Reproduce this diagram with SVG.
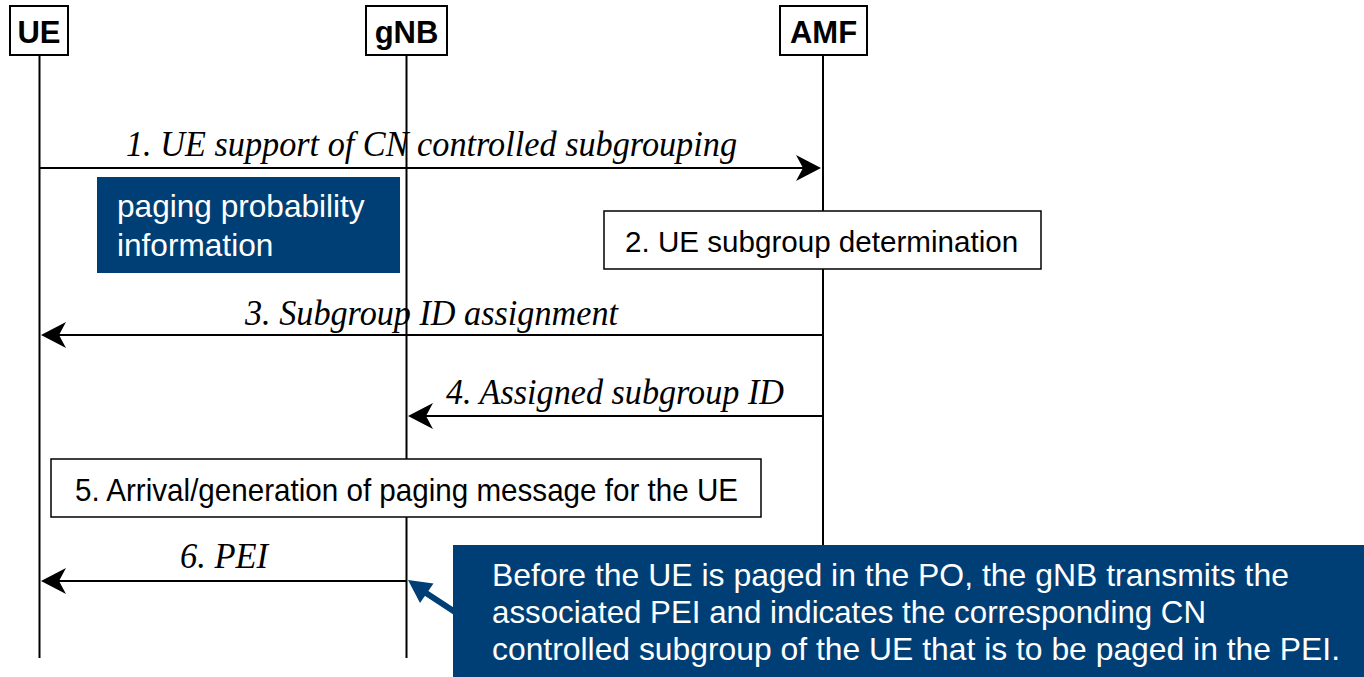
<svg xmlns="http://www.w3.org/2000/svg" width="1364" height="677" viewBox="0 0 1364 677">
<style>
.hdr{fill:#fff;stroke:#000;stroke-width:2}
.hdrt{font-family:"Liberation Sans",Arial,sans-serif;font-weight:bold;font-size:31px;fill:#000;text-anchor:middle}
.life{stroke:#000;stroke-width:2;fill:none}
.msg{stroke:#000;stroke-width:2;fill:none}
.lbl{font-family:"Liberation Serif","Times New Roman",serif;font-style:italic;font-size:35px;fill:#000}
.box{fill:#fff;stroke:#000;stroke-width:1.5}
.boxt{font-family:"Liberation Sans",Arial,sans-serif;font-size:29.6px;fill:#000}
.box5t{font-family:"Liberation Sans",Arial,sans-serif;font-size:32px;fill:#000}
.note{fill:#003F75}
.notet{font-family:"Liberation Sans",Arial,sans-serif;font-size:31.6px;fill:#fff}
.callt{font-family:"Liberation Sans",Arial,sans-serif;font-size:32px;fill:#fff}
</style>
<defs>
<marker id="ah" markerUnits="userSpaceOnUse" markerWidth="30" markerHeight="30" viewBox="0 -15 30 30" refX="7" refY="0" orient="auto">
<path d="M0,-13 L25,0 L0,13 L7,0 Z" fill="#000"/>
</marker>
</defs>
<rect width="1364" height="677" fill="#fff"/>
<g id="lifelines">
<line class="life" x1="39.5" y1="55" x2="39.5" y2="658"/>
<line class="life" x1="406.5" y1="55" x2="406.5" y2="658"/>
<line class="life" x1="823" y1="55" x2="823" y2="600"/>
</g>
<g id="UE"><rect class="hdr" x="10" y="6" width="58" height="49"/><text class="hdrt" x="39" y="43">UE</text></g>
<g id="gNB"><rect class="hdr" x="366" y="6" width="81" height="49"/><text class="hdrt" x="406.5" y="43">gNB</text></g>
<g id="AMF"><rect class="hdr" x="780" y="6" width="87" height="49"/><text class="hdrt" x="823.5" y="43">AMF</text></g>
<g id="connectors">
<line class="msg" x1="39.5" y1="168" x2="803" y2="168" marker-end="url(#ah)"/>
<line class="msg" x1="823" y1="335" x2="59" y2="335" marker-end="url(#ah)"/>
<line class="msg" x1="823" y1="416" x2="426" y2="416" marker-end="url(#ah)"/>
<line class="msg" x1="406.5" y1="581" x2="59" y2="581" marker-end="url(#ah)"/>
<text class="lbl" x="126" y="156" textLength="611" lengthAdjust="spacingAndGlyphs">1. UE support of CN controlled subgrouping</text>
<text class="lbl" x="245" y="325" textLength="373" lengthAdjust="spacingAndGlyphs">3. Subgroup ID assignment</text>
<text class="lbl" x="446" y="404" textLength="338" lengthAdjust="spacingAndGlyphs">4. Assigned subgroup ID</text>
<text class="lbl" x="180" y="568" textLength="88" lengthAdjust="spacingAndGlyphs">6. PEI</text>
</g>
<g id="paging-probability">
<rect class="note" x="97" y="177" width="303" height="96"/>
<text class="notet" x="117" y="217">paging probability</text>
<text class="notet" x="117" y="256">information</text>
</g>
<g id="step2">
<rect class="box" x="604" y="211" width="437" height="58"/>
<text class="boxt" x="625" y="252">2. UE subgroup determination</text>
</g>
<g id="step5">
<rect class="box" x="51" y="459" width="710" height="58"/>
<text class="box5t" x="75" y="501" textLength="663" lengthAdjust="spacingAndGlyphs">5. Arrival/generation of paging message for the UE</text>
</g>
<g id="pei-note">
<line x1="455" y1="612" x2="426" y2="593" stroke="#003F75" stroke-width="6"/>
<path d="M408,580 L433.5,583.5 L420,603 Z" fill="#003F75"/>
<rect class="note" x="453" y="545" width="911" height="132"/>
<text class="callt" x="492" y="586" textLength="797" lengthAdjust="spacingAndGlyphs">Before the UE is paged in the PO, the gNB transmits the</text>
<text class="callt" x="492" y="623" textLength="714" lengthAdjust="spacingAndGlyphs">associated PEI and indicates the corresponding CN</text>
<text class="callt" x="492" y="660" textLength="848" lengthAdjust="spacingAndGlyphs">controlled subgroup of the UE that is to be paged in the PEI.</text>
</g>
</svg>
